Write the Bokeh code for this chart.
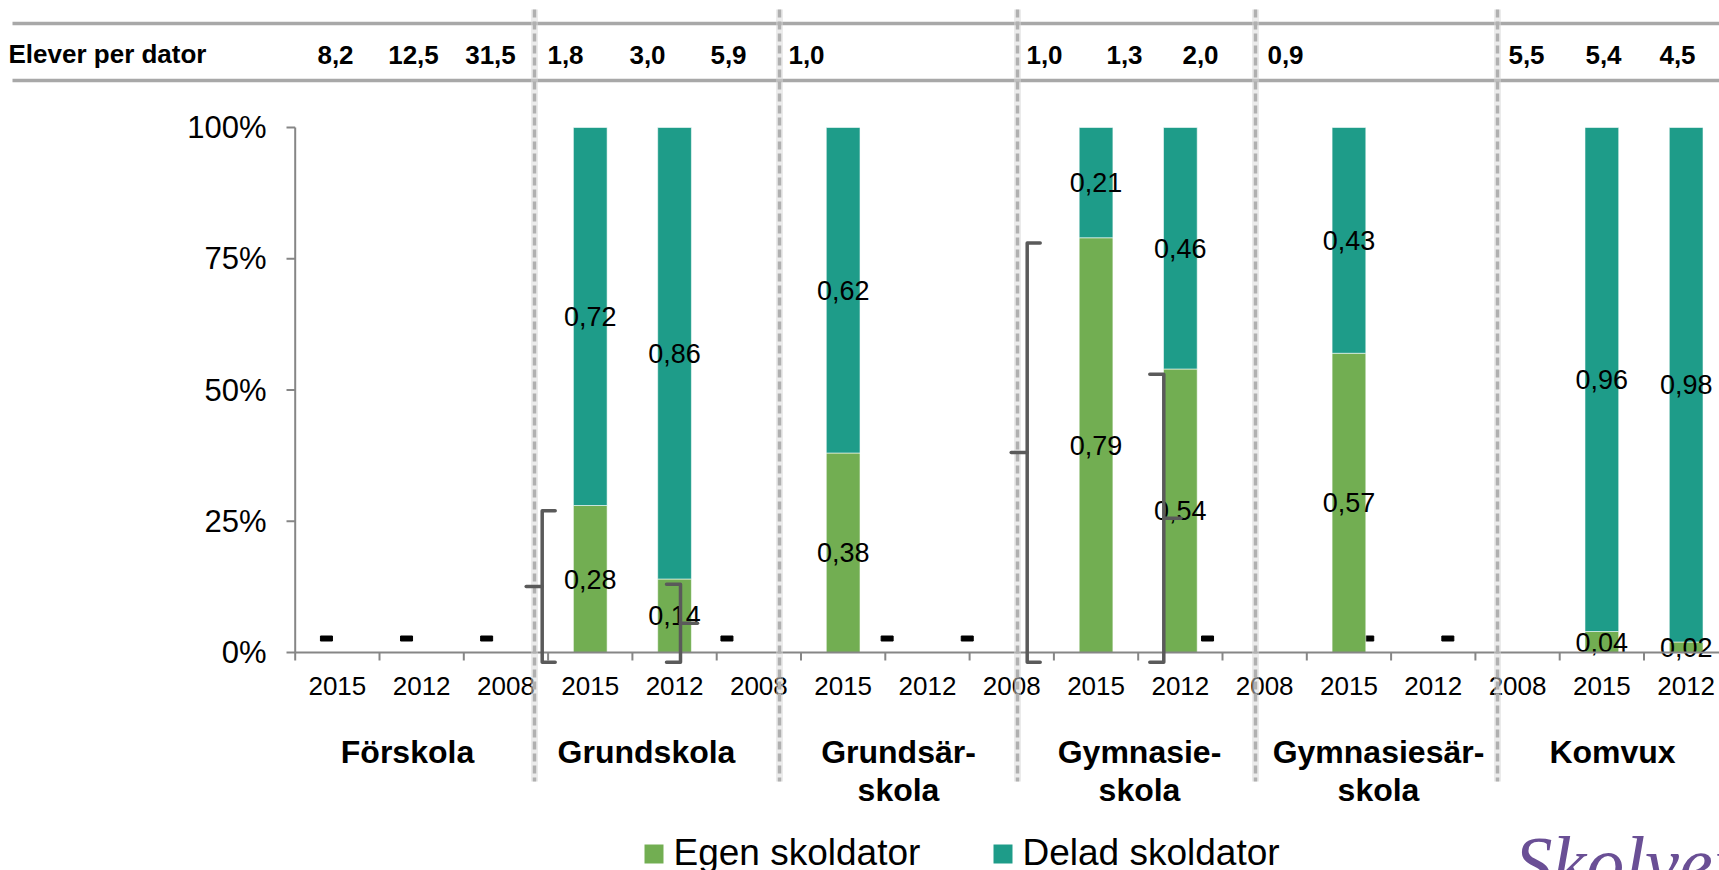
from bokeh.plotting import figure
from bokeh.models import Range1d, ColumnDataSource
from bokeh.core.properties import value
from bokeh.embed import file_html
from bokeh.resources import INLINE

# ---------------- data ----------------
groups = ["Förskola", "Grundskola", "Grundsärskola", "Gymnasieskola", "Gymnasiesärskola", "Komvux"]
group_label_line1 = ["Förskola", "Grundskola", "Grundsär-", "Gymnasie-", "Gymnasiesär-", "Komvux"]
group_label_line2 = ["", "", "skola", "skola", "skola", ""]
years = ["2015", "2012", "2008"]
egen = [None, None, None, 0.28, 0.14, None, 0.38, None, None, 0.79, 0.54, None, 0.57, None, None, 0.04, 0.02, None]
delad = [None, None, None, 0.72, 0.86, None, 0.62, None, None, 0.21, 0.46, None, 0.43, None, None, 0.96, 0.98, None]
elever_per_dator = ["8,2", "12,5", "31,5", "1,8", "3,0", "5,9", "1,0", "", "", "1,0", "1,3", "2,0", "0,9", "", "", "5,5", "5,4", "4,5"]
row_title = "Elever per dator"
y_ticks = [0, 0.25, 0.5, 0.75, 1.0]
y_tick_labels = ["0%", "25%", "50%", "75%", "100%"]
legend_labels = ["Egen skoldator", "Delad skoldator"]
logo_text = "Skolverket"

# ---------------- layout ----------------
W, H = 1719, 870
MARGIN = 0
X0 = 294.7      # page x of category axis origin
CAT_PX = 84.3   # px per category
Y0 = 652.0      # page y of 0 %
UNIT_PX = 525.0 # px per 100 %
OV_PX = 80.1    # px per column of the overlaid table

def dx(X):
    return (X - X0) / CAT_PX

def dy(Y):
    return (Y0 - Y) / UNIT_PX

def ov(u):
    return dx(X0 + u * OV_PX)

GREEN = "#72AE52"
TEAL = "#1E9C89"
AXIS = "#868686"
RULE = "#A8A8A8"
SEP = "#B0B0B0"
BRACE = "#5A5A5A"
FONT = value("Liberation Sans")

table_x_px = [335, 413, 490, 565, 647, 728, 806, None, None, 1044, 1124, 1200, 1285, None, None, 1526, 1603, 1677]
group_label_x_px = [407, 646, 898, 1139, 1378, 1612]
separator_x_px = [534, 779, 1017, 1255, 1497]
brackets = [(3, 541.7, "left"), (4, 680.0, "right"), (9, 1026.7, "left"), (10, 1163.3, "right")]

n = len(egen)

p = figure(width=W, height=H,
           x_range=Range1d(dx(MARGIN), dx(MARGIN + W)),
           y_range=Range1d(dy(MARGIN + H), dy(MARGIN)),
           output_backend="svg", toolbar_location=None,
           x_axis_type=None, y_axis_type=None, min_border=0,
           outline_line_color=None, background_fill_color="white",
           border_fill_color="white")
p.min_border_left = p.min_border_right = p.min_border_top = p.min_border_bottom = 0

# ---- table rules ----
p.segment(x0=[dx(12), dx(12)], x1=[dx(1730), dx(1730)], y0=[dy(23), dy(80)], y1=[dy(23), dy(80)],
          line_color=RULE, line_width=3.5)

# ---- table text ----
p.text(x=[dx(8)], y=[dy(53)], text=[row_title], text_font=FONT, text_font_size="26px",
       text_font_style="bold", text_align="left", text_baseline="middle", text_color="black")
tx = [dx(table_x_px[i]) for i in range(n) if elever_per_dator[i]]
tt = [elever_per_dator[i] for i in range(n) if elever_per_dator[i]]
p.text(x=tx, y=[dy(54)] * len(tx), text=tt, text_font=FONT, text_font_size="26px",
       text_font_style="bold", text_align="center", text_baseline="middle", text_color="black")

# ---- no-data dashes ----
miss = [i for i in range(n) if egen[i] is None]
p.rect(x=[ov(i + 0.39) for i in miss], y=[dy(638)] * len(miss), width=12, height=5,
       width_units="screen", height_units="screen", color="black")

# ---- bars ----
idx = [i for i in range(n) if egen[i] is not None]
src = ColumnDataSource(dict(
    x=[i + 0.5 for i in idx],
    egen=[egen[i] for i in idx],
    delad=[delad[i] for i in idx],
))
p.vbar_stack(["egen", "delad"], x="x", width=0.40, color=[GREEN, TEAL], source=src,
             line_color="white", line_width=0.8, line_alpha=0.7)

def fmt(v):
    return ("%.2f" % v).replace(".", ",")

lab_x, lab_y, lab_t = [], [], []
for i in idx:
    lab_x += [i + 0.5, i + 0.5]
    lab_y += [egen[i] / 2, egen[i] + delad[i] / 2]
    lab_t += [fmt(egen[i]), fmt(delad[i])]
p.text(x=lab_x, y=lab_y, text=lab_t, text_font=FONT, text_font_size="27px",
       text_align="center", text_baseline="middle", text_color="black")

# ---- y axis ----
p.segment(x0=[0], x1=[0], y0=[0], y1=[1], line_color=AXIS, line_width=2)
p.segment(x0=[dx(286)] * len(y_ticks), x1=[0] * len(y_ticks), y0=y_ticks, y1=y_ticks,
          line_color=AXIS, line_width=2)
p.text(x=[dx(266)] * len(y_ticks), y=y_ticks, text=y_tick_labels, text_font=FONT,
       text_font_size="31px", text_align="right", text_baseline="middle", text_color="black")

# ---- x axis ----
p.segment(x0=[0], x1=[n], y0=[0], y1=[0], line_color=AXIS, line_width=2)
p.segment(x0=list(range(n + 1)), x1=list(range(n + 1)), y0=[0] * (n + 1), y1=[dy(660)] * (n + 1),
          line_color=AXIS, line_width=2)
p.text(x=[i + 0.5 for i in range(n)], y=[dy(685)] * n, text=[years[i % 3] for i in range(n)],
       text_font=FONT, text_font_size="26px", text_align="center", text_baseline="middle",
       text_color="black")

# ---- group labels ----
p.text(x=[dx(v) for v in group_label_x_px], y=[dy(751)] * len(groups), text=group_label_line1,
       text_font=FONT, text_font_size="32px", text_font_style="bold", text_align="center",
       text_baseline="middle", text_color="black")
p.text(x=[dx(v) for v in group_label_x_px], y=[dy(789)] * len(groups), text=group_label_line2,
       text_font=FONT, text_font_size="32px", text_font_style="bold", text_align="center",
       text_baseline="middle", text_color="black")

# ---- separators ----
sx = [dx(v) for v in separator_x_px]
p.segment(x0=sx, x1=sx, y0=[dy(9)] * len(sx), y1=[dy(781)] * len(sx),
          line_color="#D8D8D8", line_width=7, line_alpha=0.5)
p.segment(x0=sx, x1=sx, y0=[dy(9)] * len(sx), y1=[dy(781)] * len(sx),
          line_color=SEP, line_width=3.5, line_dash="8 4")

# ---- brackets ----
bxs, bys = [], []
ybot = dy(661.7)
for cat, xpx, side in brackets:
    top = egen[cat] - 0.01
    hook = 13 if side == "left" else -14
    nub = -16 if side == "left" else 17
    xv = dx(xpx)
    bxs.append([dx(xpx + hook), xv, xv, dx(xpx + hook)])
    bys.append([top, top, ybot, ybot])
    mid = (top + ybot) / 2
    bxs.append([xv, dx(xpx + nub)])
    bys.append([mid, mid])
p.multi_line(xs=bxs, ys=bys, line_color=BRACE, line_width=3.5, line_join="round", line_cap="round")

# ---- legend ----
p.scatter(x=[dx(653.5), dx(1002.5)], y=[dy(853.5)] * 2, marker="square", size=19,
          color=[GREEN, TEAL], line_color=None)
p.text(x=[dx(673), dx(1022)], y=[dy(852)] * 2, text=legend_labels, text_font=FONT,
       text_font_size="37px", text_align="left", text_baseline="middle", text_color="black")

# ---- logo ----
p.text(x=[dx(1514)], y=[dy(862)], text=[logo_text], text_font=value("Liberation Serif"),
       text_font_size="76px", text_font_style="italic", text_align="left",
       text_baseline="middle", text_color="#6A4F95")

open("out.html", "w").write(file_html(p, INLINE))
